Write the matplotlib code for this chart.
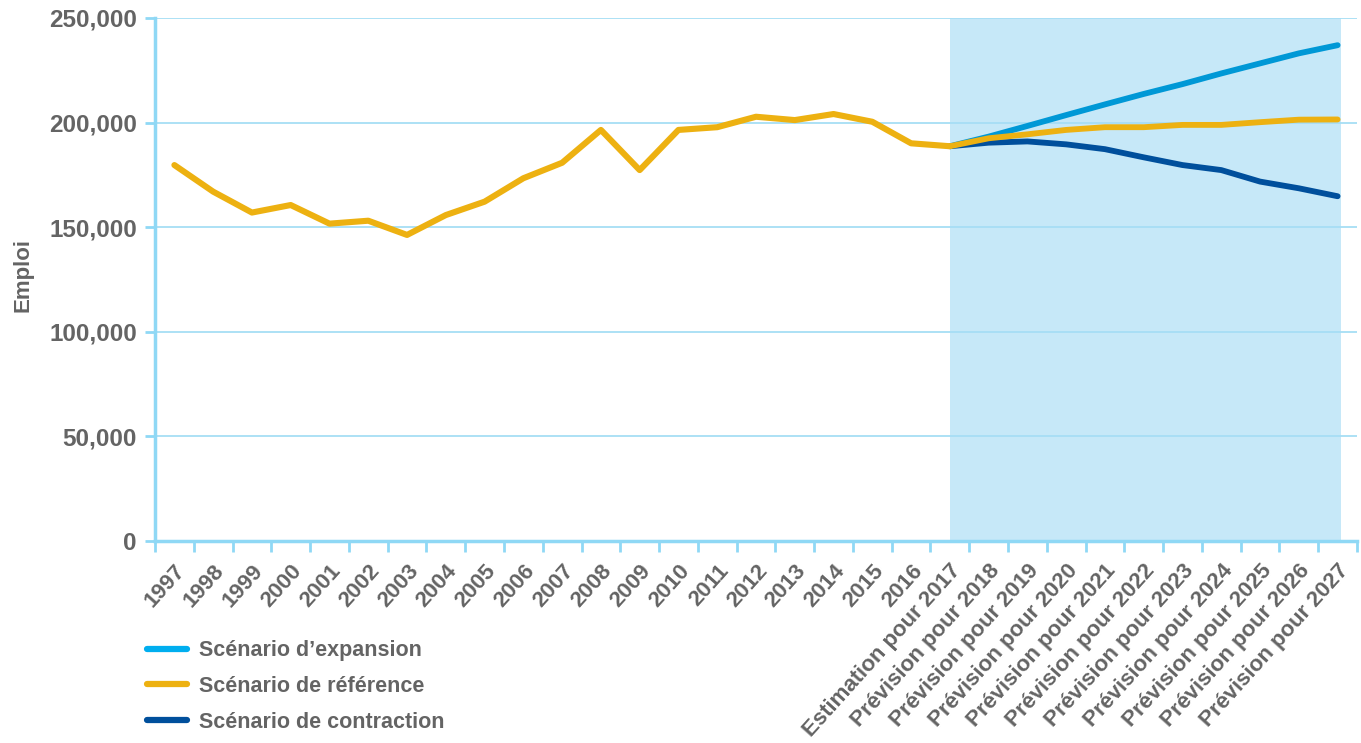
import matplotlib
matplotlib.use("Agg")
import matplotlib.pyplot as plt
from matplotlib.lines import Line2D
from matplotlib.ticker import FuncFormatter, MultipleLocator, FixedLocator

# Categories: historical years, then estimate / forecasts
categories = [str(y) for y in range(1997, 2017)] + ["Estimation pour 2017"] + \
    [f"Prévision pour {y}" for y in range(2018, 2028)]

# Historical employment (shared by every scenario up to 2017)
historical = [179700, 167000, 157000, 160600, 151700, 153100, 146300, 155800,
              162200, 173400, 180800, 196500, 177300, 196500, 197800, 202800,
              201200, 204100, 200400, 190100, 188700]

# Forecasts 2018-2027 by scenario
expansion = [193300, 198400, 203600, 208700, 213700, 218400, 223500, 228300, 233100, 237000]
reference = [192500, 194400, 196500, 197800, 197800, 198900, 198900, 200200, 201400, 201500]
contraction = [190400, 191000, 189600, 187300, 183400, 179700, 177300, 171800, 168600, 164800]

labels = ["Scénario d’expansion", "Scénario de référence", "Scénario de contraction"]
colors = ["#0098D6", "#EDB111", "#004F9C"]
legend_colors = ["#00AEEF", "#EDB111", "#004F9C"]

TEXT = "#646464"
AXIS = "#8FD8F5"
GRID = "#A6DEF5"
SHADE = "#C6E8F8"

plt.rcParams["font.family"] = ["Liberation Sans", "DejaVu Sans"]
plt.rcParams["font.weight"] = "bold"

fig = plt.figure(figsize=(13.61, 7.43), dpi=100)
ax = fig.add_axes([155 / 1361, 1 - 541 / 743, (1357 - 155) / 1361, (541 - 18) / 743])

x = list(range(len(categories)))
n_hist = len(historical)
fx = list(range(n_hist - 1, len(categories)))

# Forecast period shading
ax.axvspan(n_hist - 1, len(categories) - 0.9, color=SHADE, lw=0, zorder=0.2)

for idx in [0, 2, 1]:
    vals = [historical[-1]] + (expansion, reference, contraction)[idx]
    ax.plot(fx, vals, color=colors[idx], lw=4.2, solid_capstyle="round",
            solid_joinstyle="round", zorder=3 + (idx == 1))
ax.plot(x[:n_hist], historical, color=colors[1], lw=4.4, solid_capstyle="round",
        solid_joinstyle="round", zorder=5)

ax.set_xlim(-0.5, len(categories) - 0.5)
ax.set_ylim(0, 250000)

ax.yaxis.set_major_locator(MultipleLocator(50000))
ax.yaxis.set_major_formatter(FuncFormatter(lambda v, p: f"{int(v):,}"))
ax.set_axisbelow(True)
ax.grid(axis="y", color=GRID, lw=1.3)
ax.grid(axis="x", visible=False)

ax.set_xticks(x)
ax.set_xticklabels(categories, rotation=48, ha="right", va="top",
                   rotation_mode="anchor", fontsize=16, color=TEXT, fontweight="bold")
ax.xaxis.set_minor_locator(FixedLocator([i - 0.5 for i in range(len(categories) + 1)]))
ax.tick_params(axis="x", which="major", length=0, pad=14)
ax.tick_params(axis="x", which="minor", length=8, width=2, color=AXIS)
ax.tick_params(axis="y", which="major", length=7, width=2, color=AXIS,
               labelsize=17.5, labelcolor=TEXT, pad=6)

for side in ("top", "right"):
    ax.spines[side].set_visible(False)
for side in ("left", "bottom"):
    ax.spines[side].set_color(AXIS)
    ax.spines[side].set_linewidth(2.5)

ax.set_ylabel("Emploi", fontsize=16, color=TEXT, fontweight="bold")
ax.yaxis.set_label_coords(-0.1012, 0.509)

handles = [Line2D([0], [0], color=c, lw=4.5, solid_capstyle="round") for c in legend_colors]
leg = fig.legend(handles, labels, loc="upper left", bbox_to_anchor=(128 / 1361, 1 - 621 / 743),
                 frameon=False, fontsize=15.5, handlelength=1.85, handletextpad=0.55,
                 labelspacing=0.68)
for t in leg.get_texts():
    t.set_color(TEXT)
    t.set_fontweight("bold")

fig.savefig("out.png", dpi=100)
